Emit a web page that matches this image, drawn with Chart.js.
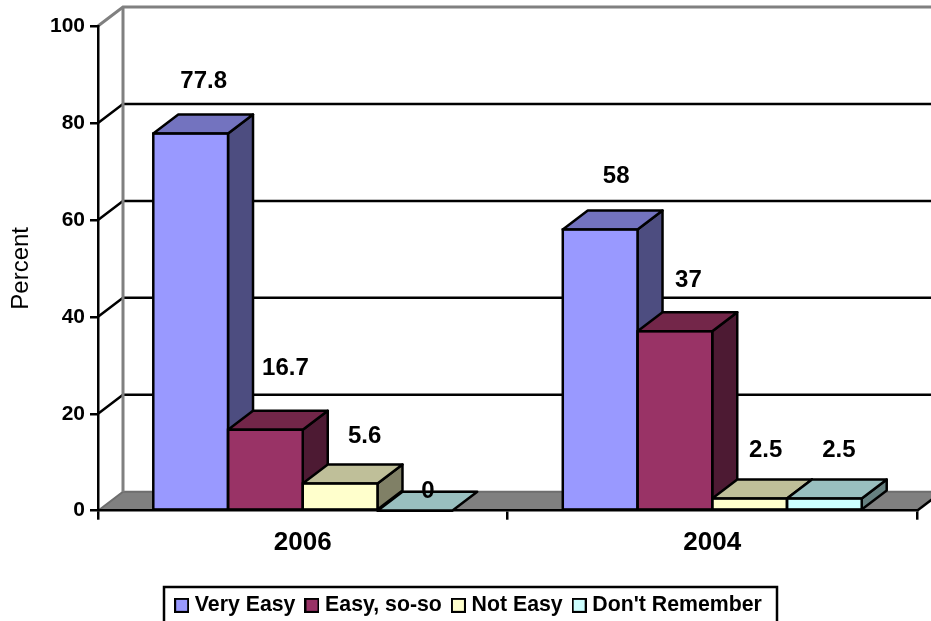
<!DOCTYPE html>
<html>
<head>
<meta charset="utf-8">
<title>Percent by year</title>
<script src="https://cdn.jsdelivr.net/npm/chart.js@4/dist/chart.umd.min.js"></script>
<style>
body { margin: 0; background: #fff; }
canvas { display: block; }
</style>
</head>
<body>
<canvas id="barChart" width="931" height="621"></canvas>
<script>
var years = ["2006", "2004"];
var seriesNames = ["Very Easy", "Easy, so-so", "Not Easy", "Don't Remember"];
var veryEasy = [77.8, 58];
var easySoSo = [16.7, 37];
var notEasy = [5.6, 2.5];
var dontRemember = [0, 2.5];
var percentTicks = [0, 20, 40, 60, 80, 100];

var frontColors = ["#9999FF", "#993366", "#FFFFCC", "#CCFFFF"];
var topColors = ["#7373BF", "#732649", "#BFBF99", "#99BFBF"];
var sideColors = ["#4D4D80", "#4D1A33", "#808066", "#668080"];

// where each value label sits, relative to the middle of the bar's top edge
var labelShifts = [
    [[13, -52], [16, -53]],
    [[20, -61], [13.5, -51]],
    [[24.5, -47], [16, -48]],
    [[13, -19], [14.5, -48]]
];

var DEPTH_X = 25;
var DEPTH_Y = 19;
var LINE_W = 2.5;
var FONT = "'Liberation Sans', Arial, sans-serif";

function poly(ctx, pts, fill, stroke) {
    ctx.beginPath();
    ctx.moveTo(pts[0][0], pts[0][1]);
    for (var i = 1; i < pts.length; i++) ctx.lineTo(pts[i][0], pts[i][1]);
    ctx.closePath();
    if (fill) { ctx.fillStyle = fill; ctx.fill(); }
    if (stroke) { ctx.strokeStyle = stroke; ctx.lineWidth = LINE_W; ctx.stroke(); }
}

function line(ctx, pts, color, width) {
    ctx.beginPath();
    ctx.moveTo(pts[0][0], pts[0][1]);
    for (var i = 1; i < pts.length; i++) ctx.lineTo(pts[i][0], pts[i][1]);
    ctx.strokeStyle = color;
    ctx.lineWidth = width;
    ctx.stroke();
}

function swatch(color) {
    var c = document.createElement("canvas");
    c.width = 15;
    c.height = 15;
    var g = c.getContext("2d");
    g.fillStyle = "#000";
    g.fillRect(0, 0, 15, 15);
    g.fillStyle = color;
    g.fillRect(2, 2, 11, 11);
    return c;
}

// walls, floor and the gridlines that run up the side wall and along the back
var frame3d = {
    id: "frame3d",
    beforeDraw: function (chart) {
        var ctx = chart.ctx, y = chart.scales.y, a = chart.chartArea;
        var backLeft = a.left + DEPTH_X, backRight = a.right + DEPTH_X;
        var floorY = a.bottom - DEPTH_Y, topY = a.top - DEPTH_Y;

        ctx.save();
        ctx.fillStyle = "#fff";
        ctx.fillRect(0, 0, chart.width, chart.height);

        poly(ctx, [[a.left, a.bottom], [backLeft, floorY], [backRight, floorY], [a.right, a.bottom]], "#808080");
        line(ctx, [[a.left, a.bottom], [backLeft, floorY], [backRight, floorY]], "#6e6e6e", 2);
        line(ctx, [[a.right, a.bottom], [backRight, floorY]], "#000", LINE_W);

        y.ticks.forEach(function (t) {
            if (t.value === 0 || t.value === 100) return;
            var py = y.getPixelForValue(t.value);
            line(ctx, [[a.left, py], [backLeft, py - DEPTH_Y], [backRight, py - DEPTH_Y]], "#000", LINE_W);
        });

        line(ctx, [[a.left, a.top], [backLeft, topY], [backRight, topY]], "#808080", 3);
        line(ctx, [[backLeft, topY], [backLeft, floorY]], "#808080", 3);
        ctx.restore();
    },
    // tops and sides go down left to right, the library then fills the fronts over them
    beforeDatasetsDraw: function (chart) {
        var ctx = chart.ctx;
        ctx.save();
        ctx.lineJoin = "round";
        chart.data.datasets.forEach(function (ds, i) {
            chart.getDatasetMeta(i).data.forEach(function (bar) {
                var p = bar.getProps(["x", "y", "base", "width"], true);
                var l = p.x - p.width / 2, r = p.x + p.width / 2;
                if (p.base - p.y > 0.5) {
                    poly(ctx, [[r, p.y], [r + DEPTH_X, p.y - DEPTH_Y], [r + DEPTH_X, p.base - DEPTH_Y], [r, p.base]], sideColors[i], "#000");
                }
                poly(ctx, [[l, p.y], [l + DEPTH_X, p.y - DEPTH_Y], [r + DEPTH_X, p.y - DEPTH_Y], [r, p.y]], topColors[i], "#000");
            });
        });
        ctx.restore();
    },
    afterDatasetsDraw: function (chart) {
        var ctx = chart.ctx;
        ctx.save();
        ctx.strokeStyle = "#000";
        ctx.lineWidth = LINE_W;
        ctx.font = "bold 24px " + FONT;
        ctx.fillStyle = "#000";
        ctx.textAlign = "center";
        ctx.textBaseline = "middle";
        chart.data.datasets.forEach(function (ds, i) {
            chart.getDatasetMeta(i).data.forEach(function (bar) {
                var p = bar.getProps(["x", "y", "base", "width"], true);
                ctx.strokeRect(p.x - p.width / 2, p.y, p.width, p.base - p.y);
            });
        });
        chart.data.datasets.forEach(function (ds, i) {
            chart.getDatasetMeta(i).data.forEach(function (bar, j) {
                var p = bar.getProps(["x", "y"], true);
                ctx.fillText(String(ds.data[j]), p.x + labelShifts[i][j][0], p.y + labelShifts[i][j][1]);
            });
        });
        ctx.restore();
    },
    // legend sits a little right of centre and low in its frame
    afterUpdate: function (chart) {
        var legend = chart.legend;
        legend.left += 12;
        legend.right += 12;
        legend.top += 5;
        legend.bottom += 5;
    },
    afterDraw: function (chart) {
        var ctx = chart.ctx;
        ctx.save();
        ctx.strokeStyle = "#000";
        ctx.lineWidth = LINE_W;
        ctx.strokeRect(164, 587, 613, 38);
        ctx.restore();
    }
};

var allSeries = [veryEasy, easySoSo, notEasy, dontRemember];

var ctxB = document.getElementById("barChart").getContext("2d");
var myBarChart = new Chart(ctxB, {
    type: "bar",
    plugins: [frame3d],
    data: {
        labels: years,
        datasets: allSeries.map(function (values, i) {
            return {
                label: seriesNames[i],
                data: values,
                backgroundColor: frontColors[i],
                borderWidth: 0,
                categoryPercentage: 0.73,
                barPercentage: 1
            };
        })
    },
    options: {
        responsive: false,
        animation: false,
        layout: { padding: { top: 26, right: 14, left: 0, bottom: 0 } },
        plugins: {
            tooltip: { enabled: false },
            legend: {
                position: "bottom",
                labels: {
                    color: "#000",
                    font: { family: FONT, size: 21.3, weight: "bold" },
                    padding: 14,
                    usePointStyle: true,
                    pointStyleWidth: 5,
                    boxHeight: 20,
                    generateLabels: function () {
                        return seriesNames.map(function (name, i) {
                            return { text: name, pointStyle: swatch(frontColors[i]), datasetIndex: i, fontColor: "#000", lineWidth: 0 };
                        });
                    }
                }
            }
        },
        scales: {
            x: {
                afterFit: function (scale) { scale.height = 65; },
                grid: { drawOnChartArea: false, color: "#000", lineWidth: LINE_W, tickLength: 9 },
                border: { color: "#000", width: LINE_W },
                ticks: { color: "#000", padding: 8, font: { family: FONT, size: 26, weight: "bold" } }
            },
            y: {
                min: 0,
                max: 100,
                afterFit: function (scale) { scale.width = 98; },
                afterBuildTicks: function (scale) {
                    scale.ticks = percentTicks.map(function (v) { return { value: v }; });
                },
                title: {
                    display: true,
                    text: "Percent",
                    color: "#000",
                    padding: { top: 7, bottom: 0 },
                    font: { family: FONT, size: 24 }
                },
                grid: { drawOnChartArea: false, color: "#000", lineWidth: LINE_W, tickLength: 8 },
                border: { color: "#000", width: LINE_W },
                ticks: { color: "#000", padding: 5, font: { family: FONT, size: 21, weight: "bold" } }
            }
        }
    }
});
</script>
</body>
</html>
